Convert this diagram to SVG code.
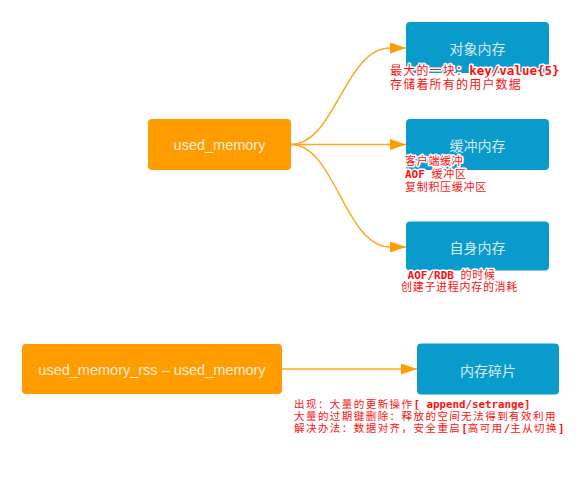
<svg xmlns="http://www.w3.org/2000/svg" width="579" height="479" viewBox="0 0 579 479">
  <defs>
    <marker id="arrow" markerUnits="userSpaceOnUse" markerWidth="16" markerHeight="12" refX="16" refY="5.5" orient="auto">
      <path d="M0,0 L16,5.5 L0,11 Z" fill="#ff9c00"/>
    </marker>
    <style>
      .src { fill: #ff9c00; }
      .dst { fill: #0a9bcd; }
      .title { font-family: "Liberation Sans", "Noto Sans CJK SC", sans-serif; font-size: 14.5px; fill: #ffffff; fill-opacity: 0.85; text-anchor: middle; dominant-baseline: central; }
      .cn { font-family: "Noto Sans CJK SC", sans-serif; font-size: 14px; fill: #ffffff; fill-opacity: 0.85; text-anchor: middle; dominant-baseline: central; }
      .link { fill: none; stroke: #ffa726; stroke-width: 1.5; marker-end: url(#arrow); }
      .note { font-family: "Noto Sans CJK SC", sans-serif; fill: #ff1010; stroke: #ffffff; stroke-width: 3; stroke-linejoin: round; paint-order: stroke; }
      .mono { font-family: "DejaVu Sans Mono", "Liberation Mono", monospace; font-weight: bold; letter-spacing: 0; }
    </style>
  </defs>

  <!-- connectors -->
  <g id="connectors">
    <path class="link" d="M291,144.5 C335,144.5 345,48 390,48 L406,48"/>
    <path class="link" d="M291,144.5 L406,144.5"/>
    <path class="link" d="M291,144.5 C335,144.5 345,247 390,247 L406,247"/>
    <path class="link" d="M282,369 L417,369"/>
  </g>

  <!-- source nodes -->
  <g id="used-memory">
    <rect class="src" x="148" y="119" width="143" height="51" rx="4"/>
    <text class="title" x="219.5" y="145">used_memory</text>
  </g>
  <g id="rss-minus-used">
    <rect class="src" x="22" y="344" width="260" height="50" rx="4"/>
    <text class="title" x="152" y="369.5">used_memory_rss – used_memory</text>
  </g>

  <!-- target nodes -->
  <g id="object-memory">
    <rect class="dst" x="406" y="22" width="143" height="51" rx="4"/>
    <text class="cn" x="477.5" y="48">对象内存</text>
  </g>
  <g id="buffer-memory">
    <rect class="dst" x="406" y="119" width="143" height="51" rx="4"/>
    <text class="cn" x="477.5" y="145">缓冲内存</text>
  </g>
  <g id="self-memory">
    <rect class="dst" x="406" y="221.5" width="143" height="49" rx="4"/>
    <text class="cn" x="477.5" y="246.5">自身内存</text>
  </g>
  <g id="fragmentation">
    <rect class="dst" x="417" y="343.5" width="142" height="51" rx="4"/>
    <text class="cn" x="488" y="369.5">内存碎片</text>
  </g>

  <!-- annotations: one text block per note, one tspan per line -->
  <g id="note-object">
    <text class="note" font-size="12" letter-spacing="1.2">
      <tspan x="390" y="75">最大的一块：<tspan class="mono" font-size="12.5">key/value{5}</tspan></tspan>
      <tspan x="390" y="89">存储着所有的用户数据</tspan>
    </text>
  </g>
  <g id="note-buffer">
    <text class="note" font-size="11" letter-spacing="0.7" xml:space="preserve"><tspan x="405" y="165">客户端缓冲</tspan><tspan x="405" y="178"><tspan class="mono" font-size="11">AOF </tspan>缓冲区</tspan><tspan x="405" y="191">复制积压缓冲区</tspan></text>
  </g>
  <g id="note-self">
    <text class="note" font-size="11" letter-spacing="0.7" xml:space="preserve"><tspan x="401" y="278.5"><tspan class="mono" font-size="11"> AOF/RDB </tspan>的时候</tspan><tspan x="401" y="291">创建子进程内存的消耗</tspan></text>
  </g>
  <g id="note-fragmentation">
    <text class="note" font-size="10.5" letter-spacing="1.45" xml:space="preserve"><tspan x="294" y="407.5">出现：大量的更新操作<tspan class="mono" font-size="10.8">[ append/setrange]</tspan></tspan><tspan x="294" y="419.5">大量的过期键删除：释放的空间无法得到有效利用</tspan><tspan x="294" y="431.5">解决办法：数据对齐，安全重启<tspan class="mono" font-size="10.8">[</tspan>高可用<tspan class="mono" font-size="10.8">/</tspan>主从切换<tspan class="mono" font-size="10.8">]</tspan></tspan></text>
  </g>
</svg>
